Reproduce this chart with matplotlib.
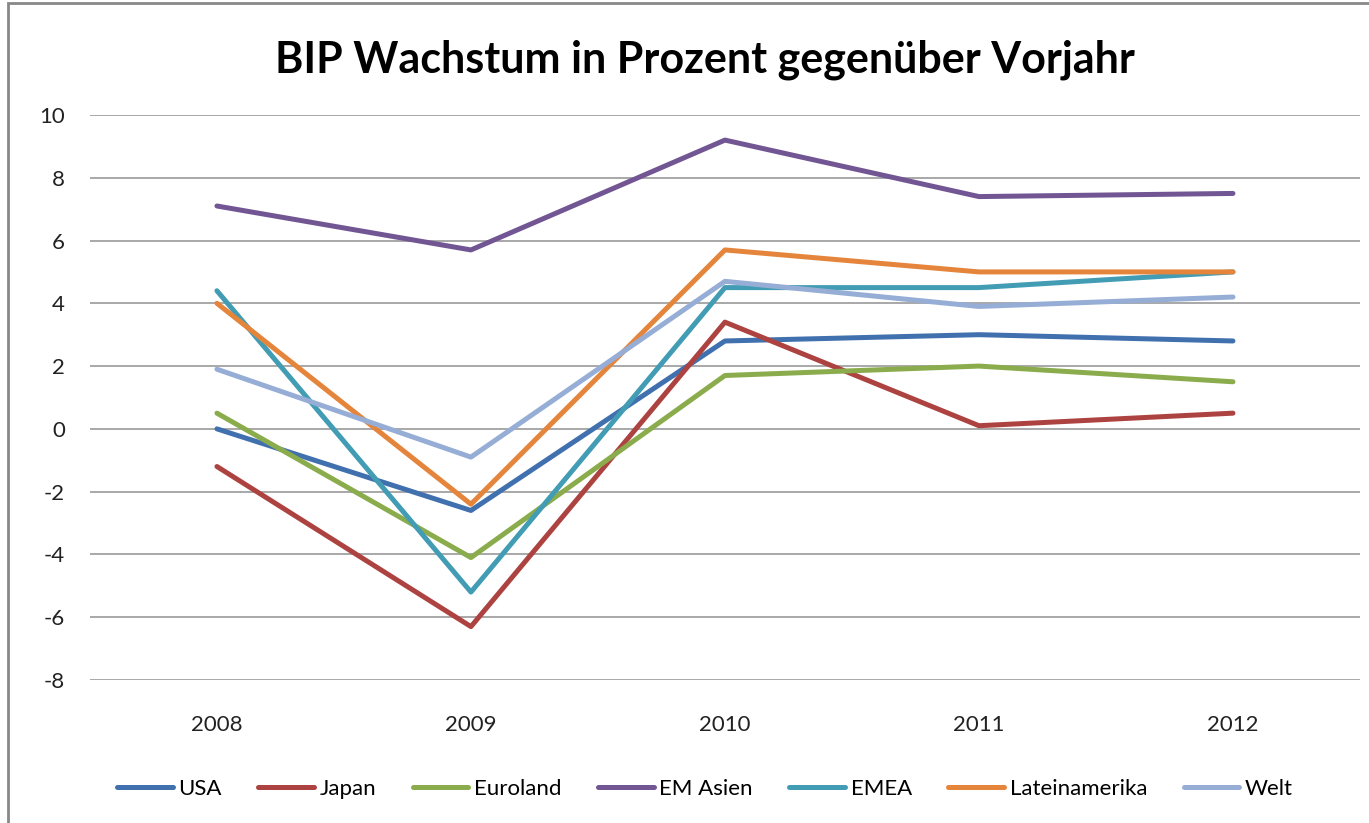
import matplotlib.pyplot as plt
from matplotlib.patches import Rectangle

jahre = ['2008', '2009', '2010', '2011', '2012']
usa = [0.0, -2.6, 2.8, 3.0, 2.8]
japan = [-1.2, -6.3, 3.4, 0.1, 0.5]
euroland = [0.5, -4.1, 1.7, 2.0, 1.5]
em_asien = [7.1, 5.7, 9.2, 7.4, 7.5]
emea = [4.4, -5.2, 4.5, 4.5, 5.0]
lateinamerika = [4.0, -2.4, 5.7, 5.0, 5.0]
welt = [1.9, -0.9, 4.7, 3.9, 4.2]

serien = [
    ('USA', usa, '#4170AE'),
    ('Japan', japan, '#AD4341'),
    ('Euroland', euroland, '#8BAC4C'),
    ('EM Asien', em_asien, '#725693'),
    ('EMEA', emea, '#419CB4'),
    ('Lateinamerika', lateinamerika, '#E5853C'),
    ('Welt', welt, '#96ADD6'),
]

plt.rcParams['font.family'] = ['Lato', 'DejaVu Sans']
plt.rcParams['axes.unicode_minus'] = False

fig = plt.figure(figsize=(13.69, 8.23), dpi=100)
ax = fig.add_axes([0.0657, 0.1738, 0.9277, 0.6865])

x = range(len(jahre))
for name, werte, farbe in serien:
    ax.plot(x, werte, color=farbe, linewidth=3.6, label=name, solid_capstyle='round')

ax.set_xlim(-0.5, len(jahre) - 0.5)
ax.set_ylim(-8, 10)
ax.set_yticks(range(-8, 11, 2))
ax.set_xticks(list(x))
ax.set_xticklabels(jahre)
ax.tick_params(axis='both', length=0, labelsize=16, colors='#222222')
ax.tick_params(axis='x', pad=25)
ax.tick_params(axis='y', pad=18)
ax.grid(axis='y', color='#999999', linewidth=1.2)
ax.set_axisbelow(True)
for s in ax.spines.values():
    s.set_visible(False)

fig.text(0.515, 0.9125, 'BIP Wachstum in Prozent gegenüber Vorjahr',
         ha='center', va='baseline', fontsize=31, fontweight='bold')

fig.legend(loc='center', bbox_to_anchor=(0.515, 0.041), ncol=7, frameon=False,
           fontsize=16, handlelength=2.5, handletextpad=0.25, columnspacing=1.65)

fig.add_artist(Rectangle((0.006, -0.05), 1.2, 1.046, transform=fig.transFigure,
                         fill=False, edgecolor='#888888', linewidth=2))

fig.savefig('out.png', dpi=100)
